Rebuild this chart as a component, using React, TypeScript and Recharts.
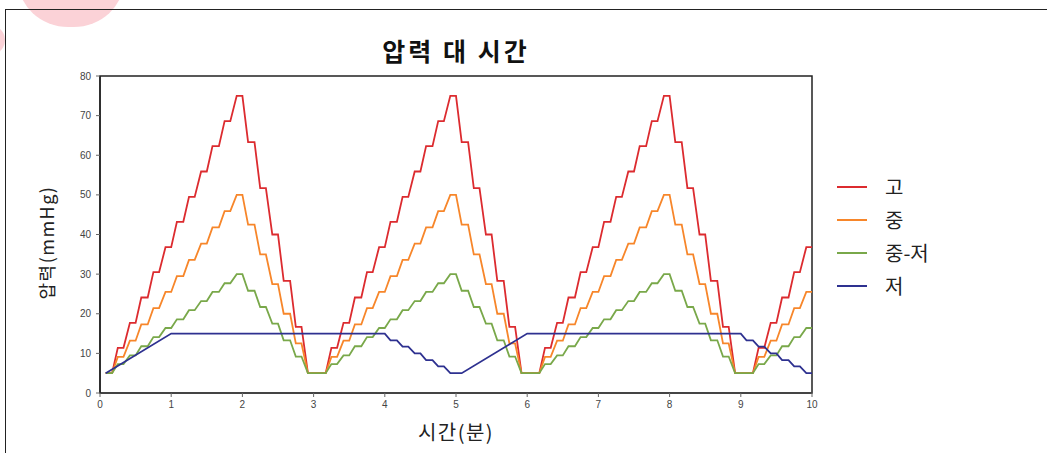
import { LineChart, Line, XAxis, YAxis, ReferenceArea, Legend } from 'recharts'

// time (min) for the stepped 고 / 중 / 중-저 series
const pulseTime = [
  0.08, 0.17, 0.25, 0.33, 0.42, 0.5, 0.58, 0.67, 0.75, 0.83, 0.92, 1, 1.08, 1.17, 1.25, 1.33, 1.42, 1.5,
  1.58, 1.67, 1.75, 1.83, 1.92, 2, 2.08, 2.17, 2.25, 2.33, 2.42, 2.5, 2.58, 2.67, 2.75, 2.83, 2.92,
  3.17, 3.25, 3.33, 3.42, 3.5, 3.58, 3.67, 3.75, 3.83, 3.92, 4, 4.08, 4.17, 4.25, 4.33, 4.42, 4.5,
  4.58, 4.67, 4.75, 4.83, 4.92, 5, 5.08, 5.17, 5.25, 5.33, 5.42, 5.5, 5.58, 5.67, 5.75, 5.83, 5.92,
  6.17, 6.25, 6.33, 6.42, 6.5, 6.58, 6.67, 6.75, 6.83, 6.92, 7, 7.08, 7.17, 7.25, 7.33, 7.42, 7.5,
  7.58, 7.67, 7.75, 7.83, 7.92, 8, 8.08, 8.17, 8.25, 8.33, 8.42, 8.5, 8.58, 8.67, 8.75, 8.83, 8.92,
  9.17, 9.25, 9.33, 9.42, 9.5, 9.58, 9.67, 9.75, 9.83, 9.92, 10,
]

const highValues = [
  5, 5, 11.4, 11.4, 17.7, 17.7, 24.1, 24.1, 30.5, 30.5, 36.8, 36.8, 43.2, 43.2, 49.5, 49.5, 55.9, 55.9,
  62.3, 62.3, 68.6, 68.6, 75, 75, 63.3, 63.3, 51.7, 51.7, 40, 40, 28.3, 28.3, 16.7, 16.7, 5,
  5, 11.4, 11.4, 17.7, 17.7, 24.1, 24.1, 30.5, 30.5, 36.8, 36.8, 43.2, 43.2, 49.5, 49.5, 55.9, 55.9,
  62.3, 62.3, 68.6, 68.6, 75, 75, 63.3, 63.3, 51.7, 51.7, 40, 40, 28.3, 28.3, 16.7, 16.7, 5,
  5, 11.4, 11.4, 17.7, 17.7, 24.1, 24.1, 30.5, 30.5, 36.8, 36.8, 43.2, 43.2, 49.5, 49.5, 55.9, 55.9,
  62.3, 62.3, 68.6, 68.6, 75, 75, 63.3, 63.3, 51.7, 51.7, 40, 40, 28.3, 28.3, 16.7, 16.7, 5,
  5, 11.4, 11.4, 17.7, 17.7, 24.1, 24.1, 30.5, 30.5, 36.8, 36.8,
]

const midValues = [
  5, 5, 9.1, 9.1, 13.2, 13.2, 17.3, 17.3, 21.4, 21.4, 25.5, 25.5, 29.5, 29.5, 33.6, 33.6, 37.7, 37.7,
  41.8, 41.8, 45.9, 45.9, 50, 50, 42.5, 42.5, 35, 35, 27.5, 27.5, 20, 20, 12.5, 12.5, 5,
  5, 9.1, 9.1, 13.2, 13.2, 17.3, 17.3, 21.4, 21.4, 25.5, 25.5, 29.5, 29.5, 33.6, 33.6, 37.7, 37.7,
  41.8, 41.8, 45.9, 45.9, 50, 50, 42.5, 42.5, 35, 35, 27.5, 27.5, 20, 20, 12.5, 12.5, 5,
  5, 9.1, 9.1, 13.2, 13.2, 17.3, 17.3, 21.4, 21.4, 25.5, 25.5, 29.5, 29.5, 33.6, 33.6, 37.7, 37.7,
  41.8, 41.8, 45.9, 45.9, 50, 50, 42.5, 42.5, 35, 35, 27.5, 27.5, 20, 20, 12.5, 12.5, 5,
  5, 9.1, 9.1, 13.2, 13.2, 17.3, 17.3, 21.4, 21.4, 25.5, 25.5,
]

const midLowValues = [
  5, 5, 7.3, 7.3, 9.5, 9.5, 11.8, 11.8, 14.1, 14.1, 16.4, 16.4, 18.6, 18.6, 20.9, 20.9, 23.2, 23.2,
  25.5, 25.5, 27.7, 27.7, 30, 30, 25.8, 25.8, 21.7, 21.7, 17.5, 17.5, 13.3, 13.3, 9.2, 9.2, 5,
  5, 7.3, 7.3, 9.5, 9.5, 11.8, 11.8, 14.1, 14.1, 16.4, 16.4, 18.6, 18.6, 20.9, 20.9, 23.2, 23.2,
  25.5, 25.5, 27.7, 27.7, 30, 30, 25.8, 25.8, 21.7, 21.7, 17.5, 17.5, 13.3, 13.3, 9.2, 9.2, 5,
  5, 7.3, 7.3, 9.5, 9.5, 11.8, 11.8, 14.1, 14.1, 16.4, 16.4, 18.6, 18.6, 20.9, 20.9, 23.2, 23.2,
  25.5, 25.5, 27.7, 27.7, 30, 30, 25.8, 25.8, 21.7, 21.7, 17.5, 17.5, 13.3, 13.3, 9.2, 9.2, 5,
  5, 7.3, 7.3, 9.5, 9.5, 11.8, 11.8, 14.1, 14.1, 16.4, 16.4,
]

// 저 has its own time points
const lowTime = [
  0.08, 1, 4, 4.08, 4.17, 4.25, 4.33, 4.42, 4.5, 4.58, 4.67, 4.75, 4.83, 4.92, 5.08,
  6, 9, 9.08, 9.17, 9.25, 9.33, 9.42, 9.5, 9.58, 9.67, 9.75, 9.83, 9.92, 10,
]
const lowValues = [
  5, 15, 15, 13.3, 13.3, 11.7, 11.7, 10, 10, 8.3, 8.3, 6.7, 6.7, 5, 5,
  15, 15, 13.3, 13.3, 11.7, 11.7, 10, 10, 8.3, 8.3, 6.7, 6.7, 5, 5,
]

const xTicks = [0, 1, 2, 3, 4, 5, 6, 7, 8, 9, 10]
const yTicks = [0, 10, 20, 30, 40, 50, 60, 70, 80]

const series = [
  { key: 'high', name: '고', color: '#dc2b2f' },
  { key: 'mid', name: '중', color: '#f7862a' },
  { key: 'midLow', name: '중-저', color: '#79a84a' },
  { key: 'low', name: '저', color: '#2e3190' },
]

const pulseRows = pulseTime.map((t, i) => ({
  t,
  high: highValues[i],
  mid: midValues[i],
  midLow: midLowValues[i],
}))
const lowRows = lowTime.map((t, i) => ({ t, low: lowValues[i] }))

const kr = '"Noto Sans CJK KR", "Noto Sans", sans-serif'
const tickFont = { fontSize: 10, fill: '#444', fontFamily: '"Liberation Sans", Arial, sans-serif' }

function LegendBox() {
  return (
    <div style={{ fontFamily: kr, fontSize: 20, color: '#222' }}>
      {series.map((s) => (
        <div key={s.key} style={{ display: 'flex', alignItems: 'center', height: 33 }}>
          <div style={{ width: 30, height: 2, background: s.color, marginRight: 18 }} />
          <span>{s.name}</span>
        </div>
      ))}
    </div>
  )
}

// rotated y title, sits a little below the plot's middle like the original
// eslint-disable-next-line @typescript-eslint/no-explicit-any
function YTitle({ viewBox }: any) {
  const cx = 46
  const cy = viewBox.y + viewBox.height / 2 + 8
  return (
    <text
      x={cx}
      y={cy}
      transform={`rotate(-90 ${cx} ${cy})`}
      textAnchor="middle"
      dominantBaseline="central"
      style={{ fontFamily: kr, fontSize: 18, letterSpacing: 1.5, fill: '#222' }}
    >
      압력(mmHg)
    </text>
  )
}

export default function App() {
  return (
    <div style={{ position: 'absolute', left: 0, top: 0, width: 1047, height: 453, overflow: 'hidden', background: '#fff' }}>
      <div style={{ position: 'absolute', left: 18, top: -72, width: 106, height: 99, borderRadius: '45% 55% 50% 50%', background: '#fbd2d7' }} />
      <div style={{ position: 'absolute', left: -40, top: 22, width: 45, height: 36, borderRadius: '50%', background: '#fbd2d7' }} />
      <div style={{ position: 'absolute', left: 5, top: 9, width: 1060, height: 460, border: '1.5px solid #222' }} />
      <div
        style={{
          position: 'absolute',
          left: 100,
          top: 32,
          width: 712,
          textAlign: 'center',
          fontFamily: kr,
          fontWeight: 700,
          fontSize: 25,
          letterSpacing: 3,
          color: '#111',
        }}
      >
        압력 대 시간
      </div>
      <div style={{ position: 'absolute', left: 0, top: 0 }}>
        <LineChart width={1047} height={453} data={pulseRows} margin={{ top: 76, right: 235, bottom: 30, left: 60 }}>
          <XAxis
            dataKey="t"
            type="number"
            domain={[0, 10]}
            ticks={xTicks}
            allowDataOverflow
            height={30}
            tickSize={4}
            tickMargin={4}
            tickLine={{ stroke: '#666' }}
            axisLine={{ stroke: '#444', strokeWidth: 2 }}
            tick={tickFont}
            label={{
              value: '시간(분)',
              position: 'bottom',
              offset: 3,
              style: { fontFamily: kr, fontSize: 20, letterSpacing: 1.5, fill: '#222' },
            }}
          />
          <YAxis
            type="number"
            domain={[0, 80]}
            ticks={yTicks}
            width={40}
            tickSize={4}
            tickMargin={5}
            tickLine={{ stroke: '#666' }}
            axisLine={{ stroke: '#222', strokeWidth: 1.5 }}
            tick={tickFont}
            label={<YTitle />}
          />
          <ReferenceArea x1={0} x2={10} y1={0} y2={80} fill="none" stroke="#222" strokeWidth={1.5} ifOverflow="visible" />
          <Line dataKey="high" name="고" stroke={series[0].color} strokeWidth={1.8} dot={false} type="linear" isAnimationActive={false} />
          <Line dataKey="mid" name="중" stroke={series[1].color} strokeWidth={1.8} dot={false} type="linear" isAnimationActive={false} />
          <Line dataKey="midLow" name="중-저" stroke={series[2].color} strokeWidth={1.8} dot={false} type="linear" isAnimationActive={false} />
          <Line data={lowRows} dataKey="low" name="저" stroke={series[3].color} strokeWidth={1.8} dot={false} type="linear" isAnimationActive={false} />
          <Legend
            layout="horizontal"
            verticalAlign="middle"
            align="center"
            content={<LegendBox />}
            wrapperStyle={{ position: 'absolute', left: 837, top: 170, width: 150, height: 140 }}
          />
        </LineChart>
      </div>
    </div>
  )
}
